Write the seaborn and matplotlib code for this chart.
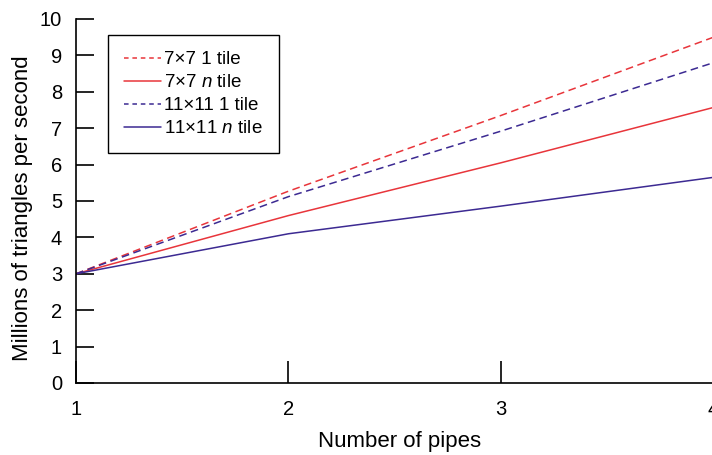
import matplotlib
matplotlib.use("Agg")
import matplotlib.pyplot as plt
import pandas as pd
import seaborn as sns

pipes = [1, 2, 3, 4]
tile7_one = [3.0, 5.27, 7.35, 9.5]
tile7_n = [3.0, 4.6, 6.05, 7.57]
tile11_one = [3.0, 5.12, 6.92, 8.8]
tile11_n = [3.0, 4.1, 4.86, 5.65]
labels = ["7×7 1 tile", "7×7 $n$ tile", "11×11 1 tile", "11×11 $n$ tile"]

sns.set_style("ticks", {"text.color": "black", "axes.labelcolor": "black",
                        "xtick.color": "black", "ytick.color": "black",
                        "axes.edgecolor": "black"})
plt.rcParams["font.family"] = ["Liberation Sans", "DejaVu Sans"]
plt.rcParams["mathtext.fontset"] = "custom"
plt.rcParams["mathtext.it"] = "Liberation Sans:italic"
plt.rcParams["mathtext.rm"] = "Liberation Sans"

red = "#e8353b"
blue = "#3c2a92"
dash = (0, (5, 3))
styles = [(red, dash), (red, "-"), (blue, dash), (blue, "-")]

fig = plt.figure(figsize=(7.12, 4.55), dpi=100)
ax = fig.add_axes([76 / 712, 72 / 455, 637.5 / 712, 364 / 455])

for vals, lab, (c, ls) in zip([tile7_one, tile7_n, tile11_one, tile11_n], labels, styles):
    df = pd.DataFrame({"pipes": pipes, "rate": vals})
    sns.lineplot(data=df, x="pipes", y="rate", ax=ax, color=c, linestyle=ls,
                 linewidth=1.1, label=lab)

ax.set_xlim(1, 4)
ax.set_ylim(0, 10)
ax.set_xticks([1, 2, 3, 4])
ax.set_yticks(range(0, 11))
ax.spines["top"].set_visible(False)
ax.spines["right"].set_visible(False)
for s in ("left", "bottom"):
    ax.spines[s].set_linewidth(1.2)
ax.tick_params(axis="y", direction="in", length=13, width=1.2, pad=10, labelsize=14.5)
ax.tick_params(axis="x", direction="in", length=16, width=1.2, pad=12, labelsize=14.5)
ax.set_xlabel("Number of pipes", fontsize=16)
ax.set_ylabel("Millions of triangles per second", fontsize=16)
ax.xaxis.set_label_coords(0.508, -0.132)
ax.yaxis.set_label_coords(-0.068, 0.48)

leg = ax.legend(loc="upper left", bbox_to_anchor=(0.05, 0.956),
                fontsize=13.5, frameon=True, fancybox=False, edgecolor="black",
                framealpha=1, handlelength=2.0, handletextpad=0.15,
                labelspacing=0.32, borderpad=0.85, borderaxespad=0)
leg.get_frame().set_linewidth(1.0)
for h in leg.get_lines():
    if h.get_linestyle() != "-":
        h.set_dashes((3, 2.5))

fig.savefig("out.png", dpi=100)
